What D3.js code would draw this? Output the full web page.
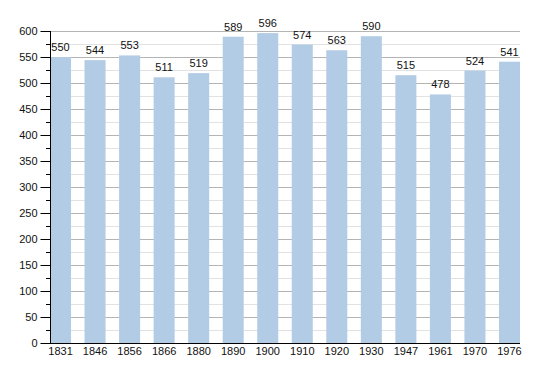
<!DOCTYPE html>
<html><head><meta charset="utf-8">
<script src="https://cdn.jsdelivr.net/npm/d3@7"></script>
<style>body{margin:0;background:#fff}svg{display:block}text{font-family:"Liberation Sans",Arial,sans-serif}</style>
</head><body>
<svg id="c" width="550" height="373"></svg>
<script>
const years = ["1831","1846","1856","1866","1880","1890","1900","1910","1920","1930","1947","1961","1970","1976"];
const population = [550,544,553,511,519,589,596,574,563,590,515,478,524,541];
const yTicks = [0,50,100,150,200,250,300,350,400,450,500,550,600];

const svg = d3.select("#c");
const L = 50, R = 520, T = 31, B = 343;
const x = d3.scaleBand().domain(years).range([L, R]).paddingInner(0.391).paddingOuter(0);
const y = d3.scaleLinear().domain([0, 600]).range([B, T]);

const minor = d3.range(25, 600, 50);
svg.append("g").selectAll("line").data(minor).join("line")
  .attr("x1", L).attr("x2", R).attr("y1", d => y(d)+0.5).attr("y2", d => y(d)+0.5)
  .attr("stroke", "#e2e2e2").attr("stroke-width", 1);
svg.append("g").selectAll("line").data(yTicks.filter(d => d > 0)).join("line")
  .attr("x1", L).attr("x2", R).attr("y1", d => y(d)+0.5).attr("y2", d => y(d)+0.5)
  .attr("stroke", "#b4b4b4").attr("stroke-width", 1);

svg.append("g").selectAll("rect").data(population).join("rect")
  .attr("x", (d,i) => x(years[i])).attr("width", x.bandwidth())
  .attr("y", d => y(d)).attr("height", d => B - y(d))
  .attr("fill", "#b3cce5");

svg.append("g").selectAll("text").data(population).join("text")
  .attr("x", (d,i) => x(years[i]) + x.bandwidth()/2).attr("y", d => y(d) - 6)
  .attr("text-anchor", "middle").attr("font-size", 11).attr("fill", "#111").text(d => d);

// y axis
const ya = svg.append("g").attr("transform", `translate(${L+0.5},0)`)
  .call(d3.axisLeft(y).tickValues(yTicks).tickSize(10).tickPadding(3));
ya.select(".domain").remove();
ya.selectAll("text").attr("font-size", 11).attr("fill", "#111").attr("font-family", '"Liberation Sans",Arial,sans-serif');
ya.selectAll("line").attr("stroke", "#000");
svg.append("g").selectAll("line").data(minor).join("line")
  .attr("x1", L-4).attr("x2", L).attr("y1", d => y(d)+0.5).attr("y2", d => y(d)+0.5)
  .attr("stroke", "#000");
svg.append("line").attr("x1", L+0.5).attr("x2", L+0.5).attr("y1", T).attr("y2", B+1).attr("stroke", "#000");

// x axis
const xa = svg.append("g").attr("transform", `translate(0,${B+0.5})`)
  .call(d3.axisBottom(x).tickSize(0).tickPadding(4));
xa.select(".domain").remove();
xa.selectAll("text").attr("font-size", 11).attr("fill", "#111").attr("font-family", '"Liberation Sans",Arial,sans-serif');
svg.append("line").attr("x1", L).attr("x2", R).attr("y1", B+0.5).attr("y2", B+0.5).attr("stroke", "#000");
</script>
</body></html>
